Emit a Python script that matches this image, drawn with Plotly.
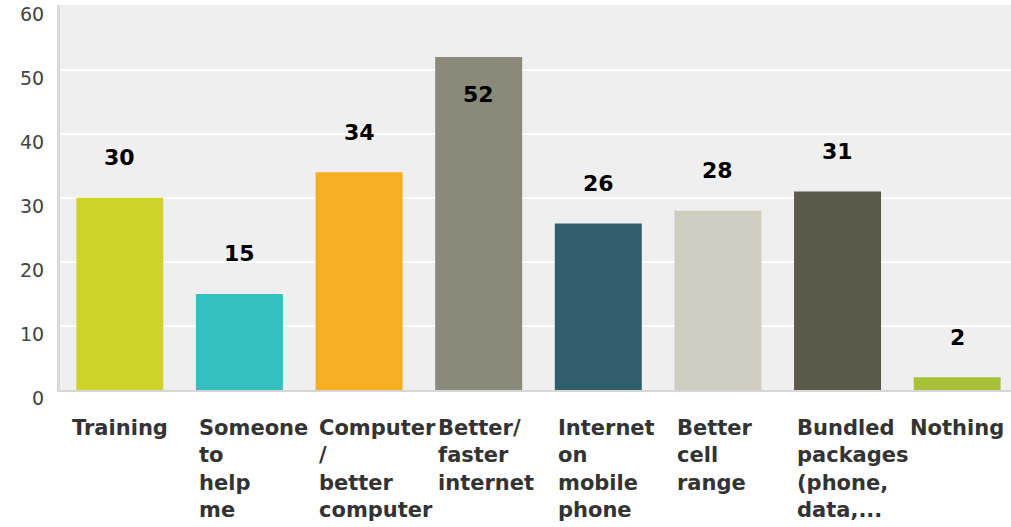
import plotly.graph_objects as go

categories = ["Training", "Someone<br>to<br>help<br>me", "Computer<br>/<br>better<br>computer",
              "Better/<br>faster<br>internet", "Internet<br>on<br>mobile<br>phone",
              "Better<br>cell<br>range", "Bundled<br>packages<br>(phone,<br>data,...", "Nothing"]
values = [30, 15, 34, 52, 26, 28, 31, 2]
colors = ["#cfd42a", "#34bfc1", "#f6ae22", "#898a79", "#2e5f6b", "#cfcdc0", "#5b5a4a", "#a9c13a"]
y_ticks = [0, 10, 20, 30, 40, 50, 60]

FONT = "DejaVu Sans"
xs = list(range(len(categories)))

fig = go.Figure()
fig.add_trace(go.Bar(x=xs, y=values, marker=dict(color=colors, line=dict(width=0)),
                     width=0.727, hoverinfo="skip"))

ann = []
ymax = y_ticks[-1]
for i, (c, v) in enumerate(zip(categories, values)):
    # value labels (placed inside the bar when it would run off the top)
    shift = 40 if v + 8 < ymax else -38
    ann.append(dict(x=i, y=v, xref="x", yref="y", text=f"<b>{v}</b>", showarrow=False,
                    yshift=shift, font=dict(family=FONT, size=22, color="#000000")))
    # category labels
    multi = "<br>" in c
    ann.append(dict(x=(i - 0.355) if multi else i, y=0, xref="x", yref="paper",
                    xanchor="left" if multi else "center", yanchor="top", align="left",
                    yshift=-24, text=f"<b>{c}</b>", showarrow=False,
                    font=dict(family=FONT, size=21, color="#333333")))

# y tick labels (drawn slightly below their gridlines, as in the reference)
for t in y_ticks:
    ann.append(dict(x=0, y=t, xref="paper", yref="y", text=str(t), showarrow=False,
                    xanchor="right", xshift=-14, yshift=-8,
                    font=dict(family=FONT, size=19, color="#444444")))

fig.update_layout(
    width=1011, height=527,
    margin=dict(l=60, r=0, t=5, b=137, autoexpand=False),
    paper_bgcolor="#ffffff", plot_bgcolor="#efefef",
    showlegend=False, bargap=0.27,
    annotations=ann,
    font=dict(family=FONT),
)
fig.update_xaxes(range=[-0.5, len(categories) - 0.55], showticklabels=False, showgrid=False,
                 zeroline=False, showline=True, linecolor="#d6d6d6", linewidth=2, automargin=False)
fig.update_yaxes(range=[0, ymax + 0.1], tickvals=y_ticks, showticklabels=False,
                 showgrid=True, gridcolor="#ffffff", gridwidth=2,
                 zeroline=False, showline=True, linecolor="#d9d9d9", linewidth=3, automargin=False)

fig.write_html("out.html", config={"displayModeBar": False},
               post_script="document.body.style.margin='0';")
